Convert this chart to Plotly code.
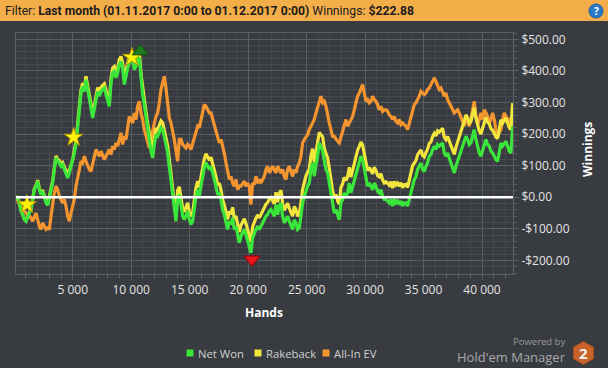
import plotly.graph_objects as go

# ---------------- data ----------------
HAND_START = 150
HAND_STEP = 142.5

net_won = [
    3, -2, -18, -44, -55, -71, -76, -60, -50, -39,
    -13, 24, 35, 51, 24, 8, 19, -2, -18, -26,
    -2, 14, 45, 88, 125, 114, 109, 98, 103, 88,
    77, 61, 77, 98, 109, 140, 167, 225, 267, 330,
    351, 335, 372, 346, 320, 283, 251, 277, 304, 335,
    320, 335, 341, 346, 325, 304, 288, 362, 394, 399,
    378, 394, 420, 430, 409, 357, 388, 409, 425, 436,
    441, 404,
    415, 436, 441, 372, 325, 293, 251, 214, 183, 146,
    125, 167, 198, 193, 209, 220, 214, 193, 167, 140,
    98, 45, -2, -44, -76, -2, 8, -23, -60, -71,
    -55, -44, -71, -86, -76, -34, 3, 24, 3, 35,
    66, 93, 109, 98, 88, 98, 77, 61, 35, 8,
    14, -7, -39, -55, -81, -102, -76, -86, -65, -102,
    -92, -123, -144, -123, -113, -102, -118, -139, -160, -176,
    -129, -113, -102, -92, -102,
    -92, -81, -71, -60, -55, -44, -39, -50, -60, -23,
    -55, -28, -18, -60, -81, -71, -60, -76, -92, -102,
    -71, -81, -102, -97, -60, -18, 3, 24, 35, 45,
    88, 109, 66, 103, 130, 172, 162, 146, 109, 88,
    77, 45, 3, -28, -50, -39, -60, -71, -18, -7,
    14, 3, 14, 45, 14, 35, 56, 77, 98, 109,
    130, 119, 88, 56, 35, 45, 35, 24, 45, 35,
    19, 14, 24, 3, -7,
    -7, -12, -18, -7, -28, -7, -18, -12, -23, -12,
    -28, -18, -18, -28, -7, 14, 45, 56, 66, 88,
    98, 109, 88, 82, 98, 109, 130, 135, 151, 162,
    151, 167, 162, 167, 172, 140, 130, 140, 125, 109,
    88, 77, 98, 114, 125, 140, 162, 177, 193, 183,
    167, 172, 193, 214, 183, 162, 140, 130, 151, 172,
    183, 167, 162, 146, 140, 130, 119, 114, 151, 172,
    162, 172, 177, 162, 146, 140, 223,
]

rakeback = [
    3, -2, -17, -43, -54, -70, -74, -58, -48, -37,
    -10, 27, 38, 54, 28, 12, 23, 2, -13, -21,
    3, 19, 51, 94, 131, 120, 116, 105, 110, 95,
    85, 69, 85, 106, 118, 149, 176, 234, 277, 340,
    361, 345, 383, 357, 331, 294, 263, 289, 316, 347,
    333, 348, 354, 359, 339, 318, 302, 376, 409, 414,
    393, 409, 436, 446, 425, 373, 405, 426, 442, 453,
    459, 422,
    433, 454, 460, 391, 344, 312, 271, 234, 203, 166,
    146, 188, 219, 214, 231, 242, 236, 215, 190, 163,
    121, 68, 22, -20, -52, 22, 33, 2, -35, -46,
    -29, -18, -45, -60, -49, -7, 30, 51, 31, 63,
    94, 121, 138, 127, 117, 127, 107, 91, 65, 38,
    45, 24, -8, -24, -49, -70, -44, -54, -32, -69,
    -59, -90, -110, -89, -79, -68, -83, -104, -125, -141,
    -93, -77, -66, -56, -65,
    -55, -44, -34, -22, -17, -6, -1, -11, -21, 16,
    -16, 12, 22, -20, -41, -30, -19, -35, -51, -60,
    -29, -39, -60, -54, -17, 25, 46, 68, 79, 89,
    132, 154, 111, 148, 175, 205, 198, 192, 155, 135,
    124, 92, 50, 20, -2, 9, -12, -22, 31, 42,
    63, 53, 64, 95, 64, 86, 107, 128, 149, 161,
    175, 165, 135, 105, 84, 94, 84, 74, 95, 85,
    69, 65, 75, 55, 45,
    49, 44, 38, 49, 29, 50, 39, 45, 35, 46,
    30, 40, 41, 31, 52, 73, 100, 108, 116, 135,
    142, 150, 132, 128, 142, 152, 170, 175, 192, 202,
    194, 210, 206, 212, 218, 190, 182, 192, 178, 164,
    146, 136, 158, 174, 188, 203, 226, 242, 261, 251,
    235, 240, 262, 283, 252, 231, 210, 200, 221, 242,
    254, 238, 233, 217, 212, 202, 191, 186, 224, 245,
    235, 245, 251, 236, 220, 214, 298,
]

allin_ev = [
    3, -13, -23, -28, -39, -44, -50, -55, -60, -65,
    -76, -60, -50, -71, -92, -102, -81, -92, -102, -97,
    -102, -60, -18, 14, 35, 24, 3, -7, -18, -7,
    -28, -60, -76, -50, -28, -7, 35, 66, 98, 114,
    109, 130, 114, 98, 88, 82, 109, 130, 151, 140,
    130, 146, 135, 119, 130, 140, 151, 135, 162, 151,
    172, 162, 183, 204, 167, 193, 183, 214, 256, 246,
    235, 267,
    246, 288, 304, 267, 246, 214, 193, 172, 156, 183,
    214, 235, 256, 267, 299, 341, 362, 383, 346, 299,
    251, 235, 214, 183, 146, 114, 183, 183, 167, 162,
    156, 167, 162, 151, 172, 193, 214, 225, 220, 246,
    277, 293, 288, 277, 267, 267, 246, 225, 204, 183,
    172, 183, 162, 140, 109, 77, 56, 66, 45, 35,
    56, 24, 35, 35, 45, 51, 35, 45, 35, -23,
    45, 40, 66, 45, 56,
    45, 56, 66, 88, 98, 77, 88, 98, 88, 77,
    98, 88, 77, 88, 66, 56, 88, 98, 77, 66,
    88, 77, 98, 109, 130, 172, 183, 193, 198, 214,
    225, 235, 246, 267, 288, 309, 320, 299, 304, 288,
    256, 235, 214, 193, 193, 183, 177, 172, 193, 214,
    225, 246, 225, 235, 246, 256, 277, 304, 320, 330,
    341, 357, 330, 304, 309, 299, 304, 320, 309, 304,
    293, 277, 288, 272, 277,
    277, 272, 261, 256, 246, 256, 240, 235, 246, 230,
    235, 230, 225, 214, 235, 261, 277, 293, 299, 309,
    320, 335, 330, 325, 330, 341, 346, 357, 372, 378,
    367, 351, 341, 346, 330, 320, 330, 309, 299, 288,
    277, 267, 272, 277, 267, 256, 240, 225, 256, 240,
    225, 246, 277, 304, 256, 230, 246, 267, 246, 277,
    267, 256, 235, 246, 267, 246, 214, 193, 204, 214,
    246, 267, 256, 235, 246, 240, 251,
]

hands = [HAND_START + HAND_STEP * i for i in range(len(net_won))]

star_hands = [1090, 5080, 10070]
star_values = [-23, 190, 443]
max_hand, max_value = [10780], [462]
min_hand, min_value = [20330], [-197]

x_tick_vals = [5000, 10000, 15000, 20000, 25000, 30000, 35000, 40000]
x_tick_text = ["5 000", "10 000", "15 000", "20 000", "25 000", "30 000", "35 000", "40 000"]
y_tick_vals = [-200, -100, 0, 100, 200, 300, 400, 500]
y_tick_text = ["-$200.00", "-$100.00", "$0.00", "$100.00", "$200.00", "$300.00", "$400.00", "$500.00"]

series_names = ["Net Won", "Rakeback", "All-In EV"]
GREEN, YELLOW, ORANGE = "#3ae63a", "#f2e63c", "#f5952f"

# ---------------- layout helpers ----------------
W, H = 608, 368
L, R, T, B = 16, 95, 33, 94
PW, PH = W - L - R, H - T - B
BG = "#383b3f"
GRID_MAJOR = "#5b5e63"
GRID_MINOR = "#47494e"
TEXT = "#e4e4e4"
FONT = "Open Sans"


def fx(p):
    return (p - L) / PW


def fy(p):
    return (H - B - p) / PH


def note(x, y, text, size, color, xanchor="center", family=FONT, **kw):
    return dict(xref="paper", yref="paper", x=fx(x), y=fy(y), xanchor=xanchor, yanchor="middle",
                showarrow=False, text=text, font=dict(family=family, size=size, color=color), **kw)


fig = go.Figure()

for name, vals, col in [("All-In EV", allin_ev, ORANGE), ("Rakeback", rakeback, YELLOW), ("Net Won", net_won, GREEN)]:
    fig.add_trace(go.Scatter(x=hands, y=vals, mode="lines", name=name,
                             line=dict(color=col, width=3.2), showlegend=False, hoverinfo="skip"))

fig.add_trace(go.Scatter(x=star_hands, y=star_values, mode="markers", showlegend=False, hoverinfo="skip",
                         marker=dict(symbol="star", size=14, color="#fff20a", line=dict(color="#b59c00", width=1))))
fig.add_trace(go.Scatter(x=max_hand, y=max_value, mode="markers", showlegend=False, hoverinfo="skip",
                         marker=dict(symbol="triangle-up", size=14, color="#1d7a1d", line=dict(color="#0f4f0f", width=1))))
fig.add_trace(go.Scatter(x=min_hand, y=min_value, mode="markers", showlegend=False, hoverinfo="skip",
                         marker=dict(symbol="triangle-down", size=14, color="#e8141a", line=dict(color="#8c0000", width=1))))

shapes = []
annotations = []

# zero line on top
shapes.append(dict(type="line", xref="paper", yref="y", x0=0, x1=1, y0=0, y1=0,
                   line=dict(color="#ffffff", width=2.5), layer="above"))

# header bar
shapes.append(dict(type="rect", xref="paper", yref="paper", x0=fx(0), x1=fx(W), y0=fy(21), y1=fy(0),
                   fillcolor="#f3ae4a", line=dict(width=0), layer="above"))
annotations.append(note(3, 10.5,
                        "Filter: <b>Last month (01.11.2017 0:00 to 01.12.2017 0:00)</b> Winnings: <b>$222.88</b>",
                        12.2, "#1b1b1b", xanchor="left", family="Roboto"))
# help icon
shapes.append(dict(type="circle", xref="paper", yref="paper", x0=fx(589), x1=fx(603), y0=fy(18), y1=fy(4),
                   fillcolor="#2b79c9", line=dict(color="#1d5fa6", width=1), layer="above"))
annotations.append(note(596, 11, "<b>?</b>", 10, "#ffffff"))

# axis titles
annotations.append(note(587, 150, "<b>Winnings</b>", 12, "#ffffff", textangle=-90))
annotations.append(note(264, 312, "<b>Hands</b>", 12, "#ffffff"))

# legend (squares + labels)
leg_sq_x = [190, 258, 326]
for name, col, sx in zip(series_names, [GREEN, YELLOW, ORANGE], leg_sq_x):
    shapes.append(dict(type="rect", xref="paper", yref="paper", x0=fx(sx - 3.5), x1=fx(sx + 3.5),
                       y0=fy(356.5), y1=fy(349.5), fillcolor=col, line=dict(width=0)))
    annotations.append(note(sx + 6, 353, name, 11.3, "#d0d0d0", xanchor="left"))

# powered by
annotations.append(note(566, 341.5, "Powered by", 9.5, "#9a9a9a", xanchor="right", borderpad=0))
annotations.append(note(567, 357, "Hold'em Manager", 13, "#a9a9a9", xanchor="right", borderpad=0))
cx, cy, r = 583.5, 353, 11.5
hexpts = [(cx, cy - r), (cx + 0.866 * r, cy - 0.5 * r), (cx + 0.866 * r, cy + 0.5 * r), (cx, cy + r),
          (cx - 0.866 * r, cy + 0.5 * r), (cx - 0.866 * r, cy - 0.5 * r)]
path = "M " + " L ".join(f"{fx(a):.5f},{fy(b):.5f}" for a, b in hexpts) + " Z"
shapes.append(dict(type="path", xref="paper", yref="paper", path=path, fillcolor="#c8632b",
                   line=dict(color="#a94f1f", width=1)))
annotations.append(note(cx, cy, "<b>2</b>", 15, "#f4f4f4"))

fig.update_layout(
    width=W, height=H,
    margin=dict(l=L, r=R, t=T, b=B),
    paper_bgcolor=BG, plot_bgcolor=BG,
    showlegend=False,
    shapes=shapes, annotations=annotations,
    font=dict(family=FONT, size=12, color=TEXT),
    xaxis=dict(range=[150, 42650], tickmode="array", tickvals=x_tick_vals, ticktext=x_tick_text,
               showgrid=True, gridcolor=GRID_MAJOR, gridwidth=1, zeroline=False,
               showline=True, linecolor=GRID_MAJOR, linewidth=1, mirror=True,
               ticks="outside", ticklen=5, tickcolor=GRID_MAJOR,
               tickfont=dict(family=FONT, size=12, color=TEXT),
               minor=dict(tick0=0, dtick=1000, showgrid=True, gridcolor=GRID_MINOR, gridwidth=1,
                          ticks="outside", ticklen=4, tickcolor=GRID_MAJOR)),
    yaxis=dict(range=[-243, 520], side="right", tickmode="array", tickvals=y_tick_vals, ticktext=y_tick_text,
               showgrid=True, gridcolor=GRID_MAJOR, gridwidth=1, zeroline=False,
               showline=True, linecolor=GRID_MAJOR, linewidth=1, mirror=True,
               ticks="outside", ticklen=5, tickcolor=GRID_MAJOR,
               tickfont=dict(family=FONT, size=12, color=TEXT),
               minor=dict(tick0=0, dtick=20, showgrid=True, gridcolor=GRID_MINOR, gridwidth=1,
                          ticks="outside", ticklen=3, tickcolor=GRID_MAJOR)),
)

fig.write_html("out.html", config={"displayModeBar": False},
               post_script="document.body.style.margin='0';document.body.style.background='" + BG + "';")
